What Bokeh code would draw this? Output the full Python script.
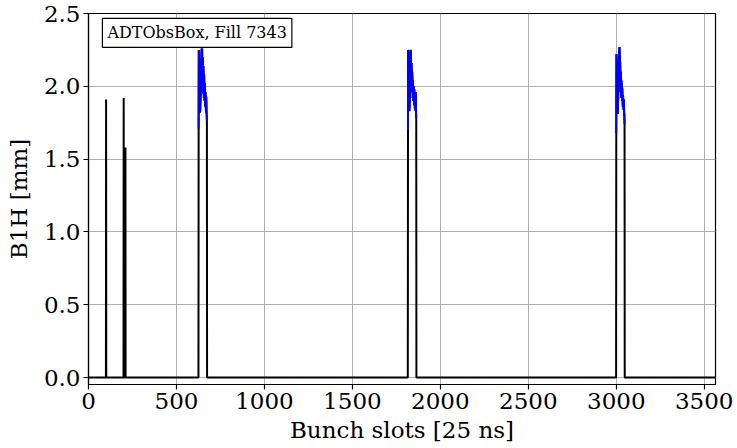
import numpy as np
from bokeh.plotting import figure
from bokeh.models import Label, FixedTicker, PrintfTickFormatter, Range1d
from bokeh.embed import file_html
from bokeh.resources import INLINE

N_SLOTS = 3564
x_ticks = [0, 500, 1000, 1500, 2000, 2500, 3000, 3500]
y_ticks = [0.0, 0.5, 1.0, 1.5, 2.0, 2.5]

# isolated (pilot/indiv) bunches: slot, amplitude [mm]
single_slots = [100, 200, 210]
single_vals = [1.91, 1.92, 1.58]

# trains (blue = observed bunches)
train1_start = 626
train1_vals = [1.71, 2.25, 2.20, 2.05, 1.95, 1.88, 1.85, 1.83, 1.82, 1.84, 1.88, 1.92,
               1.98, 2.05, 2.12, 2.18, 2.22, 2.25, 2.26, 2.24, 2.26, 2.10, 1.98, 2.20,
               2.18, 2.05, 1.95, 2.14, 2.10, 1.96, 1.92, 2.08, 2.04, 1.94, 1.90, 2.02,
               1.98, 1.88, 1.86, 1.96, 1.93, 1.85, 1.82, 1.93, 1.90, 1.82, 1.80, 1.76]
train2_start = 1816
train2_vals = [1.70, 2.25, 2.22, 2.08, 1.96, 1.90, 1.86, 1.84, 1.83, 1.86, 1.90, 1.96,
               2.04, 2.12, 2.20, 2.25, 2.24, 2.18, 2.10, 2.02, 2.16, 2.12, 2.04, 1.96,
               2.10, 2.06, 1.98, 1.92, 2.04, 2.00, 1.93, 1.90, 2.00, 1.97, 1.91, 1.87,
               1.98, 1.95, 1.89, 1.85, 1.96, 1.93, 1.87, 1.83, 1.96, 1.90, 1.82, 1.78]
train3_start = 3000
train3_vals = [1.68, 2.22, 2.18, 2.04, 1.94, 1.88, 1.84, 1.82, 1.81, 1.84, 1.88, 1.93,
               1.99, 2.06, 2.12, 2.18, 2.22, 2.25, 2.27, 2.24, 2.18, 2.08, 2.17, 2.12,
               2.04, 1.96, 2.10, 2.06, 1.98, 1.92, 2.04, 2.00, 1.94, 1.90, 1.99, 1.96,
               1.90, 1.86, 1.94, 1.92, 1.88, 1.84, 1.91, 1.90, 1.86, 1.82, 1.80, 1.74]

# full slot array (black)
slots = np.arange(N_SLOTS)
amp = np.zeros(N_SLOTS)
for s, v in zip(single_slots, single_vals):
    amp[s] = v
trains = [(train1_start, train1_vals), (train2_start, train2_vals), (train3_start, train3_vals)]
bx, by = [], []
for st, vals in trains:
    xs = list(range(st, st + len(vals)))
    amp[st:st + len(vals)] = vals
    bx += xs + [np.nan]
    by += list(vals) + [np.nan]

FONT = "DejaVu Serif"

p = figure(width=737, height=448, output_backend="svg", toolbar_location=None,
           x_range=Range1d(0, N_SLOTS), y_range=Range1d(-0.048, 2.5),
           min_border_left=88, min_border_right=22, min_border_top=13, min_border_bottom=64)

p.line(slots, amp, line_color="black", line_width=2)
p.line(bx, by, line_color="#0000ff", line_width=2)

p.outline_line_color = "black"
p.outline_line_width = 1.2
p.outline_line_alpha = 1

for ax in (p.xaxis[0], p.yaxis[0]):
    ax.axis_line_color = "black"
    ax.axis_line_width = 1.2
    ax.major_tick_line_color = "black"
    ax.major_tick_line_width = 1.2
    ax.major_tick_out = 5
    ax.major_tick_in = 0
    ax.minor_tick_line_color = None
    ax.major_label_text_font = FONT
    ax.major_label_text_font_size = "23px"
    ax.major_label_text_color = "black"
    ax.axis_label_text_font = FONT
    ax.axis_label_text_font_size = "23px"
    ax.axis_label_text_font_style = "normal"
    ax.axis_label_text_color = "black"

p.xaxis.ticker = FixedTicker(ticks=x_ticks)
p.yaxis.ticker = FixedTicker(ticks=y_ticks)
p.yaxis.formatter = PrintfTickFormatter(format="%.1f")
p.xaxis.axis_label = "Bunch slots [25 ns]"
p.yaxis.axis_label = "B1H [mm]"
p.xaxis.major_label_standoff = 3
p.yaxis.major_label_standoff = 3
p.xaxis.axis_label_standoff = 5
p.yaxis.axis_label_standoff = 9

p.grid.grid_line_color = "#b0b0b0"
p.grid.grid_line_width = 1

lab = Label(x=79, y=2.466, text="ADTObsBox, Fill 7343", text_font=FONT, text_font_size="16px",
            text_color="black", anchor="top_left", border_line_color="black", border_line_width=1.2,
            background_fill_color="white", padding=5)
p.add_layout(lab)

open("out.html", "w").write(file_html(p, INLINE))
